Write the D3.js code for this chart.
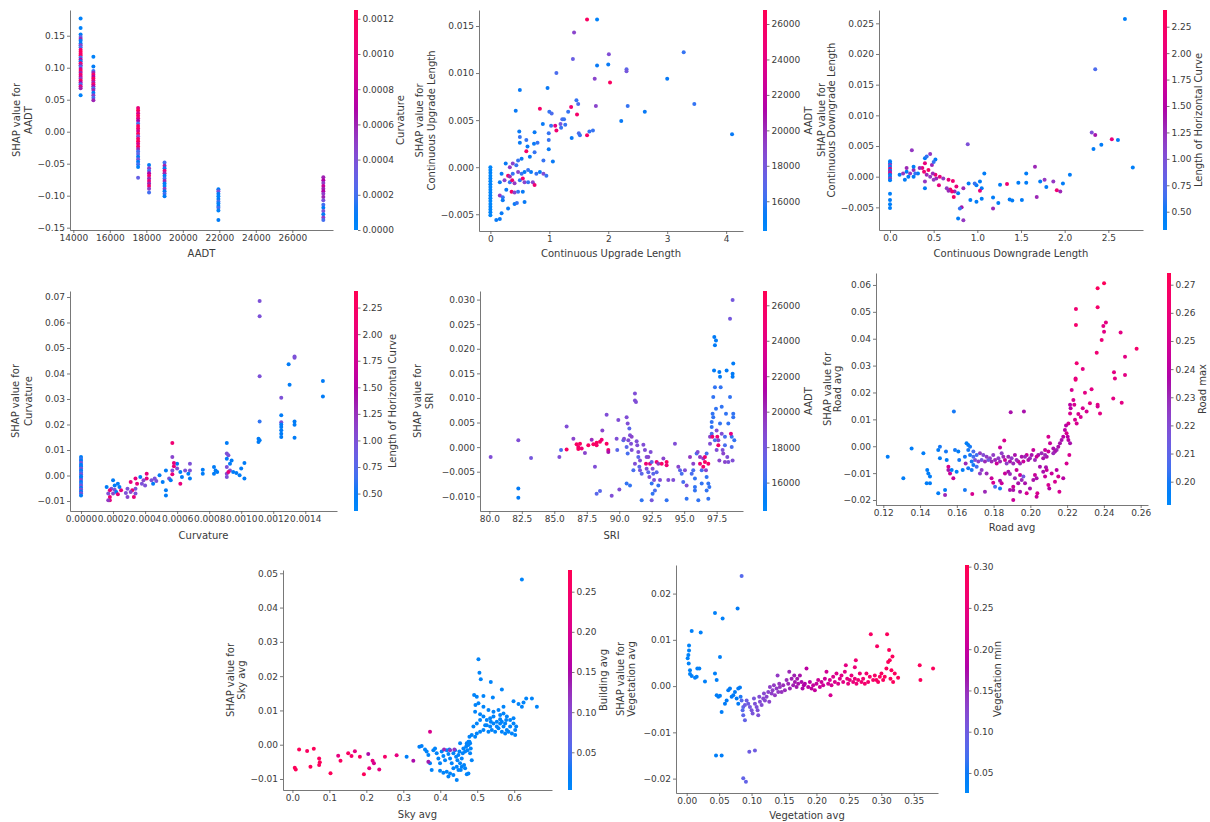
<!DOCTYPE html>
<html lang="en">
<head>
<meta charset="UTF-8">
<script src="https://d3js.org/d3.v7.min.js"></script>
<style>
  body { margin: 0; background: #fff; }
  text { font-family: "DejaVu Sans", sans-serif; fill: #3a3a3a; }
</style>
</head>
<body>
<svg id="chart" width="1210" height="822"></svg>
<script>
// ---------- data: [feature value, SHAP value, interaction feature value] ----------
var aadtPts = [
 [14400,0.177,0.00005],[14400,0.162,0.00005],[14400,0.152,0.0001],[14400,0.148,0.0003],[14400,0.145,0.0006],[14400,0.142,0.0001],
 [14400,0.138,0.0001],[14400,0.135,0.0005],[14400,0.132,0.0002],[14400,0.128,0.0011],[14400,0.125,0.0012],[14400,0.122,0.0011],
 [14400,0.119,0.0012],[14400,0.116,0.0002],[14400,0.113,0.0007],[14400,0.110,0.0001],[14400,0.107,0.0011],[14400,0.104,0.0006],
 [14400,0.101,0.0002],[14400,0.098,0.0009],[14400,0.095,0.0012],[14400,0.092,0.0006],[14400,0.089,0.0011],[14400,0.086,0.0009],
 [14400,0.083,0.0005],[14400,0.080,0.0012],[14400,0.077,0.0007],[14400,0.074,0.0002],[14400,0.071,0.0010],[14400,0.068,0.0006],
 [14400,0.057,0.00005],
 [15100,0.117,0.00005],[15100,0.102,0.0001],[15100,0.095,0.0002],[15100,0.092,0.0006],[15100,0.089,0.0011],[15100,0.086,0.0007],
 [15100,0.083,0.0012],[15100,0.080,0.0010],[15100,0.077,0.0006],[15100,0.074,0.0011],[15100,0.071,0.0007],[15100,0.068,0.0002],
 [15100,0.065,0.0006],[15100,0.061,0.0001],[15100,0.057,0.0005],[15100,0.053,0.0002],[15100,0.049,0.0006],
 [17550,0.037,0.0010],[17550,0.033,0.0012],[17550,0.029,0.0009],[17550,0.025,0.0012],[17550,0.021,0.0010],[17550,0.017,0.0007],
 [17550,0.013,0.0002],[17550,0.009,0.0012],[17550,0.005,0.0011],[17550,0.001,0.0009],[17550,-0.003,0.0012],[17550,-0.007,0.0004],
 [17550,-0.011,0.0011],[17550,-0.015,0.0012],[17550,-0.019,0.0009],[17550,-0.023,0.0012],[17550,-0.027,0.0006],[17550,-0.031,0.0002],
 [17550,-0.035,0.0003],[17550,-0.039,0.0001],[17550,-0.043,0.0004],[17550,-0.047,0.0001],[17550,-0.051,0.0002],[17550,-0.055,0.00005],
 [17550,-0.072,0.0003],
 [18150,-0.052,0.0001],[18150,-0.057,0.0005],[18150,-0.061,0.0002],[18150,-0.065,0.0007],[18150,-0.069,0.0011],[18150,-0.073,0.0006],
 [18150,-0.077,0.0010],[18150,-0.081,0.0006],[18150,-0.085,0.0011],[18150,-0.089,0.0005],[18150,-0.095,0.0002],
 [19000,-0.048,0.0002],[19000,-0.053,0.0006],[19000,-0.057,0.0001],[19000,-0.061,0.0010],[19000,-0.065,0.0006],[19000,-0.069,0.0001],
 [19000,-0.073,0.0002],[19000,-0.077,0.0006],[19000,-0.081,0.0001],[19000,-0.085,0.00005],[19000,-0.089,0.0005],[19000,-0.093,0.0001],
 [19000,-0.097,0.0002],[19000,-0.101,0.0001],
 [21950,-0.090,0.0001],[21950,-0.093,0.0004],[21950,-0.097,0.0001],[21950,-0.101,0.00005],[21950,-0.105,0.0001],[21950,-0.109,0.0002],
 [21950,-0.112,0.00005],[21950,-0.116,0.0001],[21950,-0.119,0.0002],[21950,-0.123,0.00005],[21950,-0.138,0.0001],
 [27700,-0.071,0.0006],[27700,-0.076,0.0007],[27700,-0.080,0.0005],[27700,-0.085,0.0008],[27700,-0.089,0.0006],[27700,-0.093,0.0007],
 [27700,-0.097,0.0005],[27700,-0.102,0.0006],[27700,-0.107,0.0004],[27700,-0.114,0.0002],[27700,-0.119,0.0001],[27700,-0.124,0.0004],
 [27700,-0.129,0.0001],[27700,-0.134,0.0005],[27700,-0.138,0.0002]
];

var upgradePts = [
 [1.64,0.0157,26000],[1.81,0.0157,14800],[1.42,0.0143,19000],[1.40,0.0115,17500],[2.01,0.0120,18500],[3.28,0.0122,16000],
 [1.12,0.0100,16500],[1.81,0.0108,15500],[2.00,0.0109,15500],[2.31,0.0104,17000],[2.31,0.0102,18000],[1.77,0.0094,19000],
 [3.00,0.0094,15500],[0.97,0.0084,15500],[0.50,0.0082,15500],[2.03,0.0090,26000],[0.43,0.0060,15500],[0.84,0.0062,25500],
 [1.00,0.0059,16000],[1.04,0.0057,16500],[1.37,0.0064,25000],[1.46,0.0071,16000],[1.49,0.0067,16500],[1.79,0.0065,19000],
 [2.33,0.0065,16000],[2.62,0.0059,15500],[3.46,0.0067,16000],[2.22,0.0049,15500],[4.10,0.0035,15500],[1.47,0.0056,25500],
 [1.32,0.0059,16000],[1.22,0.0051,16500],[1.25,0.0051,16000],[1.19,0.0046,18000],[1.12,0.0039,25000],[1.10,0.0044,24000],
 [1.03,0.0044,16000],[1.20,0.0042,16000],[1.27,0.0045,16000],[1.38,0.0031,15500],[1.50,0.0036,16500],[1.52,0.0034,16000],
 [1.64,0.0034,25500],[1.68,0.0038,16000],[1.74,0.0039,16000],[0.89,0.0046,15500],[0.99,0.0036,16000],[0.99,0.0029,16000],
 [0.99,0.0019,15500],[1.06,0.0006,15500],[0.90,0.0007,16000],[0.49,0.0038,15500],[0.50,0.0032,16000],[0.50,0.0026,15500],
 [0.61,0.0029,16000],[0.63,0.0022,15500],[0.61,0.0017,25500],[0.75,0.0037,15500],[0.80,0.0026,16000],[0.74,0.0025,15500],
 [0.75,0.0016,16000],[0.67,0.0011,15500],[0.47,0.0007,16000],[0.53,0.0009,15500],[0.38,0.0004,19000],[0.44,0.0002,16000],
 [0.26,0.0004,15500],[0.33,0.0000,19500],[0.19,-0.0007,15500],[0.30,-0.0009,25500],[0.33,-0.0010,20000],[0.38,-0.0007,16000],
 [0.47,-0.0005,19000],[0.53,-0.0007,16000],[0.58,-0.0005,15500],[0.64,-0.0003,16000],[0.69,-0.0005,15500],[0.78,-0.0007,16000],
 [0.84,-0.0005,15500],[0.90,-0.0007,18500],[0.95,-0.0009,16000],[0.16,-0.0016,15500],[0.24,-0.0014,19000],[0.33,-0.0016,16000],
 [0.37,-0.0014,25000],[0.41,-0.0017,19500],[0.50,-0.0014,16000],[0.55,-0.0012,25000],[0.58,-0.0016,19000],[0.64,-0.0016,16000],
 [0.72,-0.0016,19000],[0.75,-0.0019,25000],[0.16,-0.0030,19500],[0.21,-0.0032,16000],[0.27,-0.0024,15500],[0.36,-0.0026,25500],
 [0.41,-0.0027,19000],[0.47,-0.0026,16000],[0.55,-0.0026,15500],[0.41,-0.0039,15500],[0.45,-0.0038,16000],[0.58,-0.0037,15500],
 [0.30,-0.0044,15500],[0.19,-0.0049,15500],[0.16,-0.0055,15500],[0.10,-0.0056,15500],[0.21,-0.0035,15500],
 [0,0.0000,14600],[0,-0.0003,14500],[0,-0.0006,14700],[0,-0.0009,14500],[0,-0.0012,14600],[0,-0.0015,14500],
 [0,-0.0018,14800],[0,-0.0021,14500],[0,-0.0024,14600],[0,-0.0027,14500],[0,-0.0030,14700],[0,-0.0033,14500],
 [0,-0.0036,14600],[0,-0.0039,14500],[0,-0.0042,14600],[0,-0.0045,14500],[0,-0.0048,14700],[0,-0.0051,14500]
];

var downgradePts = [
 [2.69,0.0257,0.45],[2.35,0.0175,0.7],[2.31,0.0072,1.0],[2.35,0.0068,1.4],[2.33,0.0045,0.5],[2.42,0.0052,0.5],
 [2.54,0.0061,2.0],[2.61,0.0060,0.5],[2.78,0.0015,0.45],[0.89,0.0053,1.0],[2.06,0.0003,0.5],[1.87,-0.0008,1.2],
 [1.91,-0.0022,2.1],[1.95,-0.0024,1.3],[1.98,-0.0011,0.5],[1.72,-0.0008,0.5],[1.77,-0.0005,1.2],[1.66,0.0016,1.3],
 [1.68,-0.0033,1.3],[1.79,-0.0017,0.5],[1.56,-0.0010,0.5],[1.56,0.0005,0.5],[1.47,-0.0010,0.5],[1.51,-0.0038,0.5],
 [1.37,-0.0037,0.5],[1.40,-0.0039,0.5],[1.34,-0.0012,2.1],[1.26,-0.0013,0.5],[1.24,-0.0043,0.5],[1.18,-0.0034,0.5],
 [1.18,-0.0052,1.3],[1.08,0.0005,0.5],[1.03,-0.0008,0.5],[0.99,-0.0014,0.5],[1.05,-0.0019,0.5],[1.05,-0.0036,0.5],
 [0.99,-0.0041,0.5],[1.03,-0.0023,2.0],[0.97,-0.0011,0.6],[0.90,-0.0011,0.5],[0.92,-0.0038,0.5],[0.84,-0.0019,1.3],
 [0.82,-0.0050,1.4],[0.80,-0.0052,0.6],[0.84,-0.0071,1.2],[0.78,-0.0068,0.5],[0.76,-0.0016,2.0],[0.78,-0.0027,0.5],
 [0.74,-0.0024,1.3],[0.73,-0.0033,2.2],[0.71,-0.0024,2.1],[0.69,-0.0021,2.2],[0.67,-0.0023,1.3],[0.65,-0.0019,1.2],
 [0.72,-0.0007,2.1],[0.67,-0.0005,2.0],[0.61,-0.0003,1.2],[0.57,0.0000,2.0],[0.53,-0.0003,1.3],[0.56,-0.0014,2.0],
 [0.50,-0.0005,1.2],[0.52,0.0003,2.1],[0.49,0.0005,1.3],[0.46,0.0000,1.2],[0.42,0.0003,1.3],[0.39,0.0008,2.1],
 [0.37,0.0014,2.0],[0.44,0.0011,2.2],[0.48,0.0019,1.3],[0.52,0.0028,0.5],[0.50,0.0024,0.6],[0.46,0.0037,1.2],
 [0.40,0.0022,2.0],[0.40,0.0030,0.5],[0.42,0.0033,0.6],[0.40,-0.0008,1.2],[0.40,-0.0019,0.5],[0.34,0.0014,1.3],
 [0.32,0.0005,0.5],[0.27,0.0011,1.3],[0.27,0.0016,0.5],[0.29,0.0005,0.6],[0.27,0.0000,0.5],[0.25,0.0043,1.2],
 [0.23,0.0005,1.2],[0.19,0.0008,0.5],[0.19,0.0014,1.3],[0.21,0.0000,0.5],[0.17,-0.0005,0.5],[0.11,0.0003,0.5],
 [0.15,0.0005,1.2],
 [0,0.0025,0.45],[0,0.0022,0.5],[0,0.0019,1.2],[0,0.0016,0.45],[0,0.0013,2.0],[0,0.0010,0.5],[0,0.0008,1.3],
 [0,0.0005,2.0],[0,0.0003,0.45],[0,0.0000,0.5],[0,-0.0003,1.2],[0,-0.0006,0.45],[0,-0.0028,0.45],[0,-0.0038,0.5],
 [0,-0.0045,0.45],[0,-0.0051,0.45]
];

var curvaturePts = [
 [0,0.0073,0.5],[0,0.0065,0.6],[0,0.0058,0.5],[0,0.0050,1.0],[0,0.0042,0.5],[0,0.0035,0.5],[0,0.0027,1.0],
 [0,0.0020,0.5],[0,0.0012,0.6],[0,0.0005,1.0],[0,-0.0003,0.5],[0,-0.0010,0.5],[0,-0.0018,1.1],[0,-0.0025,0.5],
 [0,-0.0033,0.6],[0,-0.0040,1.0],[0,-0.0048,0.5],[0,-0.0055,1.0],[0,-0.0063,0.5],[0,-0.0070,1.0],[0,-0.0078,0.5],
 [0.001115,0.0684,1.0],[0.001115,0.0624,1.0],[0.001115,0.0389,1.0],[0.001115,0.0212,0.6],[0.001108,0.0144,0.5],
 [0.001108,0.0131,0.5],[0.001115,0.0138,0.5],
 [0.001333,0.0462,1.0],[0.001333,0.0467,1.0],[0.001296,0.0436,0.5],[0.001302,0.0356,0.5],[0.001333,0.0212,0.5],
 [0.001333,0.0199,0.5],[0.001333,0.0148,0.5],
 [0.00125,0.0305,1.0],[0.00125,0.0236,0.5],[0.00125,0.0209,1.0],[0.00125,0.0200,0.5],[0.00125,0.0190,0.5],
 [0.00125,0.0177,0.5],[0.00125,0.0164,0.5],[0.00125,0.0151,0.5],
 [0.00151,0.0371,0.5],[0.00151,0.0310,0.5],
 [0.00091,0.0127,0.5],[0.00091,0.0086,1.0],[0.00092,0.0079,1.0],[0.00091,0.0066,0.5],[0.00093,0.0046,0.5],
 [0.00091,0.0033,1.0],[0.00093,0.0020,1.0],[0.00091,0.0007,1.1],[0.00091,-0.0006,1.0],[0.00092,0.0014,2.0],
 [0.00095,0.0014,0.5],[0.00097,0.0010,0.5],[0.00100,0.0027,0.5],[0.00099,0.0001,0.5],[0.00102,0.0049,0.5],
 [0.00102,-0.0012,0.5],[0.00094,0.0059,0.5],
 [0.00083,0.0033,0.5],[0.00084,0.0020,0.5],[0.00085,0.0014,0.5],[0.00083,0.0007,0.5],[0.00076,0.0023,0.5],
 [0.00076,0.0007,0.5],[0.00068,0.0046,1.0],[0.00068,0.0020,1.0],[0.00067,0.0007,0.5],[0.00068,-0.0012,0.5],
 [0.00065,0.0020,1.0],[0.00062,0.0014,0.5],[0.00060,0.0046,0.5],[0.00060,0.0027,1.0],[0.00063,-0.0006,0.5],
 [0.00062,-0.0032,2.0],[0.00057,0.0127,2.1],[0.00057,0.0073,1.1],[0.00058,0.0049,2.0],[0.00058,0.0036,2.0],
 [0.00057,0.0020,1.0],[0.00057,0.0005,2.0],[0.00055,-0.0012,1.0],[0.00056,-0.0019,0.5],[0.00053,0.0020,0.5],
 [0.00049,0.0001,0.5],[0.00051,-0.0025,0.5],[0.00053,-0.0058,0.5],[0.00053,-0.0078,0.5],
 [0.00046,-0.0012,1.0],[0.00047,-0.0022,1.0],[0.00045,-0.0032,0.5],[0.00044,-0.0019,1.0],[0.00041,-0.0012,2.0],
 [0.00041,0.0007,2.0],[0.00039,-0.0019,1.1],[0.00038,-0.0032,1.0],[0.00040,-0.0039,1.0],[0.00037,-0.0006,0.5],
 [0.00034,-0.0012,2.0],[0.00035,-0.0032,2.0],[0.00034,-0.0052,1.0],[0.00034,-0.0071,1.0],[0.00033,-0.0084,2.0],
 [0.00032,-0.0058,2.1],[0.00031,-0.0025,2.0],[0.00031,-0.0065,1.1],[0.00029,-0.0052,1.0],[0.00029,-0.0084,1.1],
 [0.00028,-0.0069,1.0],[0.00025,-0.0058,2.0],[0.00024,-0.0045,0.5],[0.00023,-0.0032,0.5],[0.00021,-0.0039,0.5],
 [0.00020,-0.0019,0.5],[0.00019,-0.0052,1.0],[0.00020,-0.0071,1.1],[0.00018,-0.0097,2.0],[0.00018,-0.0084,2.1],
 [0.00017,-0.0097,1.2],[0.00017,-0.0071,1.0],[0.00016,-0.0045,0.5],[0.00018,-0.0058,2.0],[0.00021,-0.0056,1.0],
 [0.00022,-0.0065,0.5],[0.00023,-0.0074,2.0]
];

var sriPts = [
 [80.10,-0.0020,18500],[82.23,0.0014,18500],[82.23,-0.0084,15500],[82.23,-0.0103,15500],[83.21,-0.0022,18000],
 [85.39,-0.0020,18500],[85.52,-0.0006,16500],[85.95,0.0042,18500],[85.95,-0.0005,26000],[86.47,0.0017,19000],
 [86.72,0.0006,26000],[86.85,0.0000,25500],[86.98,0.0007,26000],[87.11,-0.0003,25000],[86.85,-0.0004,26000],
 [87.36,-0.0012,19000],[87.62,0.0004,26000],[87.88,0.0015,20000],[88.26,0.0009,26000],[88.26,0.0004,25500],
 [88.52,0.0011,26000],[88.65,0.0015,25000],[88.01,0.0006,26000],[88.13,-0.0040,18500],[88.26,-0.0095,17000],
 [88.52,-0.0089,17000],[88.70,0.0034,19000],[89.03,0.0007,26000],[89.16,-0.0006,25500],[89.16,-0.0010,21000],
 [89.03,0.0066,18500],[89.42,-0.0099,18500],[89.80,0.0017,18500],[89.85,-0.0006,17000],[89.93,0.0055,18500],
 [90.01,-0.0086,18500],[90.32,0.0014,17000],[90.37,0.0017,18500],[90.57,0.0000,17000],[90.70,0.0014,18500],
 [90.57,0.0061,18500],[90.65,0.0048,18500],[90.78,0.0038,17000],[90.83,0.0024,18500],[90.96,0.0021,19000],
 [90.91,0.0007,18500],[90.96,-0.0006,18500],[90.65,-0.0013,16500],[90.83,-0.0078,16000],[90.57,-0.0074,16000],
 [91.09,-0.0047,16500],[91.21,-0.0034,18500],[91.21,0.0109,18500],[91.21,0.0095,18500],[91.29,0.0092,18500],
 [91.34,0.0012,18500],[91.39,0.0004,18500],[91.47,-0.0010,18500],[91.47,-0.0020,17000],[91.60,-0.0027,18500],
 [91.55,-0.0040,17000],[91.60,-0.0047,18000],[91.73,-0.0054,17000],[91.73,-0.0108,16000],[91.86,0.0005,18500],
 [91.98,-0.0006,18500],[92.11,-0.0020,18500],[92.06,-0.0034,25000],[92.11,-0.0044,18500],[92.24,-0.0051,17000],
 [92.32,-0.0061,18500],[92.24,-0.0020,19000],[92.37,-0.0034,24000],[92.42,-0.0010,18500],[92.50,-0.0030,17000],
 [92.57,-0.0044,18500],[92.62,-0.0054,17000],[92.50,-0.0074,16000],[92.57,-0.0095,16000],[92.50,-0.0108,18000],
 [92.68,-0.0067,18500],[92.75,-0.0088,16500],[92.88,-0.0030,25000],[93.01,-0.0034,19500],[92.88,-0.0051,17000],
 [93.01,-0.0078,16000],[93.14,-0.0067,18500],[93.27,-0.0034,25500],[93.40,-0.0023,19000],[93.65,-0.0030,26000],
 [93.65,-0.0037,25000],[93.78,-0.0067,18500],[93.65,-0.0108,16000],[94.16,-0.0067,18500],[94.29,0.0007,18500],
 [94.55,-0.0040,19000],[94.68,-0.0047,17000],[94.81,-0.0054,16500],[94.93,-0.0071,16500],[95.06,-0.0047,18500],
 [95.19,-0.0078,18500],[95.19,-0.0105,16000],[95.45,-0.0020,19500],[95.58,-0.0054,16500],[95.70,-0.0034,19000],
 [95.70,-0.0047,16500],[95.83,-0.0064,16000],[95.83,-0.0081,16000],[95.83,-0.0088,16000],[95.96,-0.0013,16500],
 [96.04,-0.0010,18500],[96.09,-0.0108,16000],[96.22,-0.0034,25000],[96.22,-0.0020,19500],[96.35,-0.0047,16500],
 [96.35,-0.0074,16000],[96.47,-0.0023,19500],[96.47,-0.0040,25500],[96.60,-0.0020,25000],[96.60,-0.0030,26000],
 [96.68,-0.0047,19000],[96.73,-0.0013,16500],[96.73,-0.0061,16000],[96.73,-0.0088,16000],[96.86,-0.0034,25500],
 [96.86,-0.0074,16000],[96.86,-0.0105,16000],[96.94,-0.0081,16000],[96.99,0.0007,18500],[96.99,0.0021,19000],
 [97.12,0.0041,16000],[97.12,0.0051,16000],[97.19,0.0068,16000],[97.24,0.0061,16000],[97.24,0.0102,16000],
 [97.30,0.0156,15500],[97.32,0.0224,15500],[97.45,0.0217,15500],[97.37,0.0207,15500],[97.37,0.0122,16000],
 [97.45,0.0078,16000],[97.50,0.0034,18500],[97.55,0.0021,25000],[97.63,0.0014,19000],[97.63,0.0004,25500],
 [97.71,0.0153,15500],[97.76,0.0143,15500],[97.76,0.0048,16000],[97.81,0.0122,16000],[97.89,0.0082,16000],
 [97.89,0.0027,18500],[97.96,-0.0006,18500],[98.01,-0.0013,19000],[98.14,0.0004,16500],[98.14,0.0021,16500],
 [98.22,0.0068,16000],[98.27,0.0156,15500],[98.40,0.0048,16000],[98.40,-0.0030,18500],[98.53,0.0102,16000],
 [98.66,0.0000,16500],[98.66,0.0021,16000],[98.60,0.0027,24000],[98.73,-0.0027,18500],[98.78,0.0170,15500],
 [98.73,0.0149,15500],[98.73,0.0143,15500],[98.78,0.0068,16000],[98.78,0.0061,16000],[98.86,0.0014,16000],
 [98.32,-0.0020,18500],[98.14,-0.0030,19000],[98.53,0.0261,18000],[98.73,0.0299,18000],[97.50,-0.0006,18500],
 [97.71,-0.0027,19000],[97.37,0.0014,16500],[97.12,0.0027,16500],[97.17,0.0021,25000]
];

var roadPts = [
 [0.2401,0.0606,0.272],[0.2366,0.0588,0.27],[0.2366,0.0517,0.265],[0.2248,0.0511,0.262],[0.2248,0.0451,0.265],
 [0.2411,0.0460,0.255],[0.2397,0.0447,0.255],[0.2401,0.0426,0.255],[0.2388,0.0395,0.26],[0.2491,0.0423,0.255],
 [0.2361,0.0348,0.262],[0.2578,0.0363,0.265],[0.2515,0.0333,0.255],[0.2252,0.0309,0.262],[0.2285,0.0287,0.255],
 [0.2246,0.0252,0.255],[0.2246,0.0247,0.26],[0.2455,0.0275,0.255],[0.2460,0.0252,0.255],[0.2515,0.0265,0.255],
 [0.2297,0.0199,0.255],[0.2333,0.0212,0.255],[0.2225,0.0209,0.25],[0.2234,0.0172,0.25],[0.2239,0.0154,0.25],
 [0.2285,0.0141,0.25],[0.2324,0.0160,0.255],[0.2366,0.0154,0.255],[0.2366,0.0148,0.25],[0.2379,0.0122,0.255],
 [0.2451,0.0178,0.255],[0.2497,0.0162,0.255],[0.2306,0.0129,0.25],[0.2274,0.0109,0.25],[0.2252,0.0085,0.25],
 [0.2243,0.0099,0.25],[0.2261,0.0120,0.25],[0.2216,0.0122,0.25],[0.2219,0.0141,0.24],[0.2216,0.0154,0.24],
 [0.2207,0.0085,0.25],[0.2194,0.0077,0.24],[0.2188,0.0060,0.24],[0.2197,0.0048,0.25],[0.2203,0.0035,0.24],
 [0.2207,0.0023,0.24],[0.2216,0.0011,0.235],[0.2212,-0.0033,0.25],[0.2197,-0.0064,0.25],[0.2179,0.0035,0.24],
 [0.2170,0.0023,0.235],[0.2161,0.0011,0.235],[0.2152,-0.0002,0.235],[0.2143,-0.0014,0.23],[0.2134,-0.0020,0.235],
 [0.2125,-0.0026,0.23],[0.2125,-0.0008,0.235],[0.2107,0.0011,0.245],[0.2098,0.0035,0.25],[0.2098,-0.0020,0.245],
 [0.2089,-0.0039,0.235],[0.2080,-0.0033,0.23],[0.2070,-0.0045,0.235],[0.2080,-0.0014,0.245],[0.2061,-0.0026,0.23],
 [0.2043,-0.0033,0.235],[0.2034,-0.0039,0.245],[0.2025,-0.0051,0.23],[0.2016,-0.0014,0.245],[0.2007,-0.0033,0.235],
 [0.1998,-0.0045,0.23],[0.1989,-0.0051,0.235],[0.1980,-0.0033,0.245],[0.1971,-0.0039,0.23],[0.1962,-0.0057,0.245],
 [0.1953,-0.0039,0.235],[0.1944,-0.0064,0.23],[0.1934,-0.0057,0.245],[0.1925,-0.0051,0.23],[0.1916,-0.0033,0.235],
 [0.1907,-0.0064,0.23],[0.1898,-0.0045,0.225],[0.1889,-0.0057,0.235],[0.1880,-0.0039,0.23],[0.1871,-0.0064,0.225],
 [0.1862,-0.0051,0.245],[0.1853,-0.0039,0.23],[0.1844,-0.0026,0.225],[0.1835,-0.0057,0.23],[0.1826,-0.0045,0.225],
 [0.1817,-0.0064,0.245],[0.1808,-0.0051,0.23],[0.1798,-0.0033,0.225],[0.1789,-0.0057,0.23],[0.1780,-0.0045,0.225],
 [0.1771,-0.0051,0.215],[0.1762,-0.0039,0.225],[0.1753,-0.0057,0.23],[0.1744,-0.0033,0.22],[0.1735,-0.0051,0.215],
 [0.1726,-0.0026,0.225],[0.1717,-0.0057,0.225],[0.1708,-0.0033,0.205],[0.1699,-0.0051,0.22],[0.1690,-0.0039,0.205],
 [0.1681,-0.0057,0.2],[0.1672,-0.0033,0.2],[0.1662,-0.0082,0.2],[0.1653,0.0011,0.198],[0.1662,0.0005,0.198],
 [0.1672,-0.0002,0.2],[0.1681,-0.0088,0.2],[0.1690,-0.0070,0.2],[0.1708,-0.0076,0.205],[0.1726,-0.0101,0.225],
 [0.1735,-0.0088,0.225],[0.1762,-0.0101,0.23],[0.1789,-0.0119,0.245],[0.1798,-0.0136,0.25],[0.1835,-0.0128,0.235],
 [0.1844,-0.0138,0.245],[0.1862,-0.0101,0.245],[0.1880,-0.0095,0.235],[0.1889,-0.0103,0.23],[0.1907,-0.0163,0.235],
 [0.1916,-0.0119,0.23],[0.1925,-0.0088,0.245],[0.1934,-0.0138,0.235],[0.1944,-0.0107,0.245],[0.1953,-0.0126,0.23],
 [0.1962,-0.0113,0.215],[0.1971,-0.0138,0.235],[0.1980,-0.0175,0.25],[0.1998,-0.0157,0.235],[0.2016,-0.0126,0.235],
 [0.2025,-0.0107,0.245],[0.2034,-0.0119,0.235],[0.2038,-0.0175,0.25],[0.2052,-0.0076,0.235],[0.2070,-0.0095,0.235],
 [0.2080,-0.0113,0.245],[0.2089,-0.0088,0.245],[0.2098,-0.0144,0.25],[0.2103,-0.0157,0.24],[0.2116,-0.0101,0.245],
 [0.2134,-0.0132,0.25],[0.2143,-0.0088,0.24],[0.2152,-0.0113,0.25],[0.2158,-0.0169,0.25],[0.2179,-0.0119,0.24],
 [0.2085,-0.0078,0.235],[0.1944,-0.0169,0.235],[0.1907,-0.0151,0.245],[0.1858,0.0021,0.25],[0.1835,-0.0005,0.245],
 [0.1893,0.0126,0.235],[0.1965,0.0129,0.235],[0.1584,0.0129,0.2],[0.1835,-0.0157,0.2],[0.1808,-0.0151,0.205],
 [0.1753,-0.0169,0.23],[0.1889,-0.0163,0.235],[0.1907,-0.0200,0.245],[0.2034,-0.0188,0.245],[0.1644,-0.0163,0.2],
 [0.1684,-0.0178,0.25],[0.1536,-0.0163,0.198],[0.1536,-0.0181,0.23],[0.1499,-0.0175,0.198],[0.1499,-0.0014,0.198],
 [0.1508,-0.0002,0.2],[0.1541,-0.0020,0.2],[0.1545,-0.0051,0.198],[0.1554,-0.0076,0.25],[0.1563,-0.0101,0.245],
 [0.1581,-0.0119,0.245],[0.1554,-0.0088,0.235],[0.1590,-0.0014,0.2],[0.1608,-0.0020,0.198],[0.1613,-0.0051,0.2],
 [0.1632,-0.0088,0.198],[0.1454,-0.0113,0.198],[0.1454,-0.0138,0.198],[0.1436,-0.0138,0.198],[0.1439,-0.0088,0.198],
 [0.1445,-0.0101,0.198],[0.1418,-0.0026,0.198],[0.1354,-0.0008,0.198],[0.1309,-0.0119,0.198],[0.1224,-0.0039,0.198],
 [0.1508,-0.0045,0.198],[0.1644,-0.0039,0.2],[0.1648,-0.0064,0.23],[0.1599,-0.0095,0.198],[0.1572,-0.0088,0.198],
 [0.1662,-0.0014,0.2],[0.1690,-0.0020,0.205]
];

var skyPts = [
 [0.6208,0.0482,0.01],[0.5033,0.0249,0.01],[0.5060,0.0210,0.01],[0.5096,0.0191,0.01],[0.5367,0.0183,0.01],
 [0.5666,0.0161,0.01],[0.4916,0.0145,0.01],[0.4988,0.0140,0.01],[0.5168,0.0142,0.01],[0.5422,0.0138,0.01],
 [0.4952,0.0116,0.01],[0.5033,0.0121,0.01],[0.5982,0.0127,0.01],[0.6117,0.0119,0.01],[0.6325,0.0135,0.01],
 [0.6479,0.0135,0.01],[0.6614,0.0111,0.01],[0.6208,0.0111,0.01],[0.6253,0.0123,0.01],
 [0.4943,0.0096,0.01],[0.5078,0.0089,0.01],[0.5168,0.0082,0.01],[0.5259,0.0072,0.01],[0.5350,0.0077,0.01],
 [0.5440,0.0082,0.01],[0.5530,0.0067,0.01],[0.5620,0.0074,0.01],[0.5711,0.0091,0.01],[0.5756,0.0062,0.01],
 [0.5801,0.0082,0.01],[0.5891,0.0072,0.01],[0.5982,0.0062,0.01],[0.6027,0.0043,0.01],[0.6054,0.0053,0.01],
 [0.5891,0.0053,0.01],[0.5801,0.0043,0.01],[0.5711,0.0053,0.01],[0.5620,0.0062,0.01],[0.5530,0.0053,0.01],
 [0.5440,0.0062,0.01],[0.5350,0.0053,0.01],[0.5259,0.0057,0.01],[0.5168,0.0043,0.01],[0.5078,0.0038,0.01],
 [0.4988,0.0033,0.01],[0.4943,0.0023,0.01],[0.4897,0.0053,0.01],[0.4988,0.0062,0.01],[0.5078,0.0072,0.01],
 [0.5214,0.0057,0.01],[0.5304,0.0038,0.01],[0.5395,0.0043,0.01],[0.5485,0.0038,0.01],[0.5575,0.0048,0.01],
 [0.5666,0.0038,0.01],[0.5756,0.0033,0.01],[0.5846,0.0038,0.01],[0.5937,0.0033,0.01],[0.6027,0.0028,0.01],
 [0.5620,0.0087,0.01],[0.5982,0.0077,0.01],[0.5168,0.0111,0.01],[0.5304,0.0101,0.01],[0.5440,0.0096,0.01],
 [0.5575,0.0101,0.01],[0.5711,0.0111,0.01],[0.5783,0.0072,0.01],[0.5666,0.0067,0.01],[0.5367,0.0067,0.01],
 [0.4762,0.0009,0.01],[0.4789,0.0023,0.01],[0.4807,0.0004,0.01],[0.4852,0.0028,0.01],[0.4717,-0.0001,0.01],
 [0.3434,-0.0006,0.02],[0.3497,-0.0004,0.02],[0.3587,-0.0014,0.01],[0.3632,-0.0020,0.01],[0.3678,-0.0030,0.01],
 [0.3723,-0.0054,0.01],[0.3768,-0.0074,0.01],[0.3813,-0.0016,0.01],[0.3858,-0.0011,0.01],[0.3903,-0.0025,0.01],
 [0.3949,-0.0040,0.01],[0.3994,-0.0054,0.01],[0.4039,-0.0020,0.01],[0.4084,-0.0033,0.01],[0.4129,-0.0045,0.01],
 [0.4175,-0.0016,0.01],[0.4220,-0.0027,0.01],[0.4247,-0.0014,0.01],[0.4265,-0.0040,0.01],[0.4310,-0.0054,0.01],
 [0.4355,-0.0025,0.01],[0.4400,-0.0016,0.01],[0.4428,-0.0035,0.01],[0.4464,-0.0045,0.01],[0.4491,-0.0030,0.01],
 [0.4518,-0.0020,0.01],[0.4536,-0.0054,0.01],[0.4554,-0.0074,0.01],[0.4581,-0.0040,0.01],[0.4608,-0.0025,0.01],
 [0.4626,-0.0011,0.01],[0.4644,-0.0059,0.01],[0.4672,-0.0020,0.01],[0.4699,-0.0006,0.01],[0.4717,0.0004,0.01],
 [0.4735,-0.0016,0.01],[0.4762,-0.0001,0.01],[0.4789,0.0009,0.01],[0.4807,-0.0025,0.01],[0.4825,-0.0011,0.01],
 [0.4852,-0.0045,0.01],[0.4536,0.0004,0.01],[0.4446,-0.0103,0.01],[0.4355,-0.0088,0.01],[0.4265,-0.0084,0.01],
 [0.4175,-0.0079,0.01],[0.4084,-0.0082,0.01],[0.3994,-0.0076,0.01],[0.4717,-0.0086,0.01],[0.4762,-0.0084,0.01],
 [0.4672,-0.0069,0.01],[0.4581,-0.0064,0.01],[0.4446,-0.0064,0.01],[0.4355,-0.0069,0.01],[0.4220,-0.0093,0.01],
 [0.4491,-0.0074,0.01],
 [0.4382,-0.0014,0.12],[0.4102,-0.0014,0.13],[0.4265,-0.0016,0.12],[0.3678,-0.0050,0.14],[0.3271,-0.0047,0.15],
 [0.3723,0.0038,0.2],[0.3090,-0.0035,0.02],
 [0.0063,-0.0067,0.27],[0.0090,-0.0072,0.27],[0.0181,-0.0014,0.27],[0.0398,-0.0018,0.26],[0.0488,-0.0064,0.27],
 [0.0578,-0.0012,0.27],[0.0723,-0.0040,0.26],[0.0741,-0.0051,0.27],[0.0723,-0.0059,0.26],[0.1030,-0.0083,0.27],
 [0.1238,-0.0032,0.22],[0.1301,-0.0047,0.26],[0.1509,-0.0025,0.26],[0.1599,-0.0033,0.25],[0.1690,-0.0019,0.22],
 [0.1825,-0.0035,0.26],[0.1934,-0.0086,0.27],[0.2051,-0.0027,0.15],[0.2078,-0.0069,0.22],[0.2169,-0.0047,0.22],
 [0.2205,-0.0054,0.2],[0.2349,-0.0072,0.22],[0.2503,-0.0035,0.25],[0.2819,-0.0031,0.22]
];

var vegPts = [
 [0.0847,0.0238,0.08],[0.0785,0.0168,0.05],[0.0436,0.0158,0.04],[0.0554,0.0146,0.04],[0.0077,0.0119,0.04],
 [0.0216,0.0116,0.04],[0.0036,0.0088,0.035],[0.0036,0.0077,0.035],[0.0026,0.0067,0.035],[0.0015,0.0060,0.035],
 [0.0031,0.0049,0.035],[0.0051,0.0034,0.035],[0.0051,0.0026,0.035],[0.0077,0.0022,0.04],[0.0128,0.0018,0.04],
 [0.0154,0.0020,0.04],[0.0164,0.0038,0.04],[0.0195,0.0038,0.04],[0.0282,0.0010,0.04],[0.0436,0.0027,0.04],
 [0.0462,0.0013,0.04],[0.0513,0.0063,0.04],[0.0462,-0.0020,0.045],[0.0488,-0.0023,0.045],[0.0513,-0.0021,0.045],
 [0.0539,-0.0056,0.045],[0.0539,-0.0150,0.045],[0.0590,-0.0038,0.05],[0.0616,-0.0031,0.05],[0.0641,-0.0009,0.05],
 [0.0667,-0.0005,0.05],[0.0693,-0.0023,0.05],[0.0718,-0.0020,0.05],[0.0744,-0.0013,0.05],[0.0770,-0.0027,0.05],
 [0.0795,-0.0005,0.05],[0.0821,-0.0003,0.05],[0.0831,-0.0023,0.055],[0.0795,-0.0038,0.05],[0.0847,-0.0031,0.08],
 [0.0872,-0.0045,0.085],[0.0862,-0.0052,0.08],[0.0872,-0.0063,0.085],[0.0898,-0.0074,0.09],[0.0898,-0.0041,0.1],
 [0.0924,-0.0031,0.1],[0.0949,-0.0038,0.1],[0.0975,-0.0045,0.105],[0.1001,-0.0052,0.11],[0.1016,-0.0059,0.11],
 [0.1037,-0.0027,0.11],[0.1052,-0.0038,0.115],[0.1078,-0.0045,0.115],[0.1093,-0.0052,0.115],[0.1103,-0.0063,0.115],
 [0.1119,-0.0023,0.12],[0.1129,-0.0034,0.12],[0.1155,-0.0041,0.12],[0.1180,-0.0027,0.125],[0.1191,-0.0016,0.125],
 [0.1206,-0.0031,0.125],[0.1232,-0.0023,0.13],[0.1257,-0.0013,0.13],[0.1273,-0.0034,0.13],[0.1283,-0.0002,0.135],
 [0.1309,-0.0016,0.135],[0.1324,-0.0009,0.135],[0.1345,0.0002,0.14],[0.1360,-0.0020,0.14],[0.1386,-0.0005,0.14],
 [0.1411,-0.0013,0.14],[0.1427,0.0005,0.145],[0.1437,-0.0002,0.145],[0.1463,-0.0013,0.145],[0.1488,0.0002,0.15],
 [0.1401,0.0023,0.14],[0.1514,-0.0009,0.15],[0.1540,0.0013,0.15],[0.1565,0.0005,0.155],[0.1581,0.0031,0.155],
 [0.1591,-0.0005,0.155],[0.1617,0.0016,0.16],[0.1642,0.0002,0.16],[0.1658,0.0023,0.16],[0.1668,0.0009,0.165],
 [0.1694,-0.0002,0.165],[0.1704,0.0016,0.165],[0.1719,0.0005,0.17],[0.1745,0.0023,0.17],[0.1770,0.0009,0.175],
 [0.1786,-0.0005,0.175],[0.1806,0.0002,0.18],[0.1847,0.0038,0.19],[0.1822,0.0005,0.18],[0.1873,-0.0002,0.19],
 [0.1899,0.0009,0.19],[0.1924,-0.0005,0.195],[0.1950,0.0002,0.2],[0.1976,-0.0009,0.2],[0.2001,0.0005,0.2],
 [0.2027,0.0013,0.205],[0.2053,-0.0002,0.205],[0.2078,0.0009,0.21],[0.2104,0.0002,0.21],[0.2130,0.0016,0.21],
 [0.2155,0.0031,0.215],[0.2181,0.0005,0.215],[0.2207,0.0013,0.22],[0.2217,-0.0020,0.22],[0.2232,0.0002,0.22],
 [0.2258,0.0020,0.225],[0.2284,0.0009,0.225],[0.2309,0.0027,0.23],[0.2335,0.0005,0.23],[0.2361,0.0016,0.23],
 [0.2386,0.0023,0.235],[0.2412,0.0009,0.235],[0.2438,0.0031,0.24],[0.2453,0.0045,0.24],[0.2474,0.0016,0.24],
 [0.2489,0.0005,0.245],[0.2515,0.0013,0.245],[0.2540,0.0023,0.25],[0.2566,0.0009,0.25],[0.2592,0.0016,0.25],
 [0.2607,0.0056,0.26],[0.2592,0.0041,0.255],[0.2617,0.0005,0.255],[0.2643,0.0013,0.26],[0.2669,0.0027,0.26],
 [0.2694,0.0009,0.265],[0.2720,0.0016,0.265],[0.2746,0.0005,0.27],[0.2771,0.0027,0.27],[0.2797,0.0009,0.27],
 [0.2823,0.0020,0.275],[0.2838,0.0112,0.28],[0.2874,0.0013,0.275],[0.2900,0.0023,0.28],[0.2925,0.0013,0.28],
 [0.2935,0.0086,0.28],[0.2951,0.0009,0.28],[0.2977,0.0020,0.285],[0.3002,0.0027,0.285],[0.3028,0.0013,0.285],
 [0.3053,0.0020,0.29],[0.3079,0.0038,0.29],[0.3089,0.0112,0.29],[0.3105,0.0052,0.29],[0.3120,0.0078,0.29],
 [0.3130,0.0056,0.29],[0.3141,0.0016,0.29],[0.3156,0.0034,0.29],[0.3172,0.0064,0.29],[0.3182,0.0009,0.29],
 [0.3207,0.0027,0.29],[0.3259,0.0018,0.29],[0.3592,0.0045,0.29],[0.3603,0.0013,0.29],[0.3798,0.0038,0.29],
 [0.0452,-0.0150,0.045],[0.0965,-0.0142,0.1],[0.1052,-0.0139,0.1],[0.0872,-0.0199,0.09],[0.0913,-0.0207,0.09]
];

// ---------- tick values ----------
var aadtXTicks = [14000,16000,18000,20000,22000,24000,26000];
var aadtYTicks = [-0.15,-0.10,-0.05,0,0.05,0.10,0.15];
var curvCbTicks = [0,0.0002,0.0004,0.0006,0.0008,0.0010,0.0012];
var upXTicks = [0,1,2,3,4];
var upYTicks = [-0.005,0,0.005,0.010,0.015];
var aadtCbTicks = [16000,18000,20000,22000,24000,26000];
var downXTicks = [0,0.5,1.0,1.5,2.0,2.5];
var downYTicks = [-0.005,0,0.005,0.010,0.015,0.020,0.025];
var lhcCbTicks = [0.5,0.75,1.0,1.25,1.5,1.75,2.0,2.25];
var curvXTicks = [0,0.0002,0.0004,0.0006,0.0008,0.0010,0.0012,0.0014];
var curvYTicks = [-0.01,0,0.01,0.02,0.03,0.04,0.05,0.06,0.07];
var sriXTicks = [80,82.5,85,87.5,90,92.5,95,97.5];
var sriYTicks = [-0.010,-0.005,0,0.005,0.010,0.015,0.020,0.025,0.030];
var roadXTicks = [0.12,0.14,0.16,0.18,0.20,0.22,0.24,0.26];
var roadYTicks = [-0.02,-0.01,0,0.01,0.02,0.03,0.04,0.05,0.06];
var roadCbTicks = [0.20,0.21,0.22,0.23,0.24,0.25,0.26,0.27];
var skyXTicks = [0,0.1,0.2,0.3,0.4,0.5,0.6];
var skyYTicks = [-0.01,0,0.01,0.02,0.03,0.04,0.05];
var buildCbTicks = [0.05,0.10,0.15,0.20,0.25];
var vegXTicks = [0,0.05,0.10,0.15,0.20,0.25,0.30,0.35];
var vegYTicks = [-0.02,-0.01,0,0.01,0.02];
var vegCbTicks = [0.05,0.10,0.15,0.20,0.25,0.30];

// ---------- layout of the 8 panels ----------
var panels = [
 {pts:aadtPts, xlab:"AADT", ylab:["SHAP value for","AADT"], cblab:"Curvature",
  box:[70,10,333,230], xdom:[13819,28230], ydom:[-0.1536,0.1902], cdom:[0,0.00125],
  xt:aadtXTicks, yt:aadtYTicks, ct:curvCbTicks, xf:"d", yf:".2f", cf:".4f",
  cbx:354, yl:[-54,-42], cbl:400, xly:23},
 {pts:upgradePts, xlab:"Continuous Upgrade Length", ylab:["SHAP value for","Continuous Upgrade Length"], cblab:"AADT",
  box:[479,10,743,231], xdom:[-0.193,4.286], ydom:[-0.00678,0.0167], cdom:[14322,26791],
  xt:upXTicks, yt:upYTicks, ct:aadtCbTicks, xf:"d", yf:".3f", cf:"d",
  cbx:763, yl:[-60,-48], cbl:808, xly:22},
 {pts:downgradePts, xlab:"Continuous Downgrade Length", ylab:["SHAP value for","Continuous Downgrade Length"], cblab:"Length of Horizontal Curve",
  box:[879,10,1143,230], xdom:[-0.126,2.897], ydom:[-0.00869,0.02717], cdom:[0.327,2.408],
  xt:downXTicks, yt:downYTicks, ct:lhcCbTicks, xf:".1f", yf:".3f", cf:".2f",
  cbx:1163, yl:[-58,-48], cbl:1198, xly:23},
 {pts:curvaturePts, xlab:"Curvature", ylab:["SHAP value for","Curvature"], cblab:"Length of Horizontal Curve",
  box:[70,291,337,511], xdom:[-0.0000688,0.001598], ydom:[-0.01392,0.07235], cdom:[0.336,2.406],
  xt:curvXTicks, yt:curvYTicks, ct:lhcCbTicks, xf:".4f", yf:".2f", cf:".2f",
  cbx:354, yl:[-55,-42], cbl:392, xly:24},
 {pts:sriPts, xlab:"SRI", ylab:["SHAP value for","SRI"], cblab:"AADT",
  box:[480,291,743,511], xdom:[79.28,99.53], ydom:[-0.01299,0.03175], cdom:[14398,26806],
  xt:sriXTicks, yt:sriYTicks, ct:aadtCbTicks, xf:".1f", yf:".3f", cf:"d",
  cbx:763, yl:[-63,-51], cbl:808, xly:24},
 {pts:roadPts, xlab:"Road avg", ylab:["SHAP value for","Road avg"], cblab:"Road max",
  box:[876,273,1148,505], xdom:[0.11603,0.2640], ydom:[-0.02186,0.06445], cdom:[0.19171,0.27416],
  xt:roadXTicks, yt:roadYTicks, ct:roadCbTicks, xf:".2f", yf:".2f", cf:".2f",
  cbx:1167, yl:[-49,-39], cbl:1202, xly:22},
 {pts:skyPts, xlab:"Sky avg", ylab:["SHAP value for","Sky avg"], cblab:"Building avg",
  box:[283,570,552,790], xdom:[-0.0255,0.7023], ydom:[-0.01321,0.05096], cdom:[0.00305,0.277],
  xt:skyXTicks, yt:skyYTicks, ct:buildCbTicks, xf:".1f", yf:".2f", cf:".2f",
  cbx:568, yl:[-53,-42], cbl:603, xly:24},
 {pts:vegPts, xlab:"Vegetation avg", ylab:["SHAP value for","Vegetation avg"], cblab:"Vegetation min",
  box:[676,565,938,793], xdom:[-0.01648,0.3874], ydom:[-0.02311,0.02618], cdom:[0.02573,0.302],
  xt:vegXTicks, yt:vegYTicks, ct:vegCbTicks, xf:".2f", yf:".2f", cf:".2f",
  cbx:965, yl:[-56,-45], cbl:997, xly:22}
];

// SHAP-style red/blue map: LCH path from blue to red, lightness dipping to 40 at the middle
function cmap(t) {
  var l = t < 0.5 ? 54 + (40 - 54) * (t * 2) : 40 + (54 - 40) * (t * 2 - 1);
  var ch = 70 + (90 - 70) * t;
  var h = (4.6588 + (0.35470565 + 2 * Math.PI - 4.6588) * t) * 180 / Math.PI;
  return d3.hcl(h, ch, l).formatHex();
}

var svg = d3.select("#chart");

var defs = svg.append("defs");
var grad = defs.append("linearGradient").attr("id", "redblue")
  .attr("x1", 0).attr("y1", 1).attr("x2", 0).attr("y2", 0);
d3.range(0, 1.0001, 0.05).forEach(function(t) {
  grad.append("stop").attr("offset", t).attr("stop-color", cmap(t));
});

function styleAxis(g) {
  g.selectAll("path.domain").attr("stroke", "#555").attr("stroke-width", 0.8);
  g.selectAll(".tick line").attr("stroke", "#555").attr("stroke-width", 0.8);
  g.selectAll(".tick text").attr("fill", "#3a3a3a")
    .style("font-size", "9px").style("font-family", "DejaVu Sans, sans-serif");
}

panels.forEach(function(p) {
  var L = p.box[0], T = p.box[1], R = p.box[2], B = p.box[3];
  var x = d3.scaleLinear().domain(p.xdom).range([L, R]);
  var y = d3.scaleLinear().domain(p.ydom).range([B, T]);
  var c = d3.scaleLinear().domain(p.cdom).range([0, 1]).clamp(true);
  var cy = d3.scaleLinear().domain(p.cdom).range([B, T]);

  var g = svg.append("g");

  // points
  g.append("g").selectAll("circle")
    .data(p.pts)
    .enter().append("circle")
    .attr("cx", function(d) { return x(d[0]); })
    .attr("cy", function(d) { return y(d[1]); })
    .attr("r", 2)
    .attr("fill", function(d) { return cmap(c(d[2])); });

  // axes (left + bottom spines only)
  var ax = g.append("g").attr("transform", "translate(0," + B + ")")
    .call(d3.axisBottom(x).tickValues(p.xt).tickFormat(d3.format(p.xf))
      .tickSize(3).tickSizeOuter(0).tickPadding(2));
  styleAxis(ax);
  var ay = g.append("g").attr("transform", "translate(" + L + ",0)")
    .call(d3.axisLeft(y).tickValues(p.yt).tickFormat(d3.format(p.yf))
      .tickSize(3).tickSizeOuter(0).tickPadding(2));
  styleAxis(ay);

  // axis labels
  g.append("text")
    .attr("x", (L + R) / 2).attr("y", B + p.xly).attr("dy", "0.35em")
    .attr("text-anchor", "middle").style("font-size", "10px")
    .text(p.xlab);
  var midY = (T + B) / 2;
  p.ylab.forEach(function(s, i) {
    g.append("text")
      .attr("transform", "translate(" + (L + p.yl[i]) + "," + midY + ") rotate(-90)")
      .attr("dy", "0.35em").attr("text-anchor", "middle").style("font-size", "10px")
      .text(s);
  });

  // colour bar
  g.append("rect").attr("x", p.cbx).attr("y", T).attr("width", 4).attr("height", B - T)
    .attr("fill", "url(#redblue)");
  var ac = g.append("g").attr("transform", "translate(" + (p.cbx + 4) + ",0)")
    .call(d3.axisRight(cy).tickValues(p.ct).tickFormat(d3.format(p.cf))
      .tickSize(2.5).tickSizeOuter(0).tickPadding(2));
  styleAxis(ac);
  ac.select("path.domain").remove();
  g.append("text")
    .attr("transform", "translate(" + p.cbl + "," + midY + ") rotate(-90)")
    .attr("dy", "0.35em").attr("text-anchor", "middle").style("font-size", "10px")
    .text(p.cblab);
});
</script>
</body>
</html>
